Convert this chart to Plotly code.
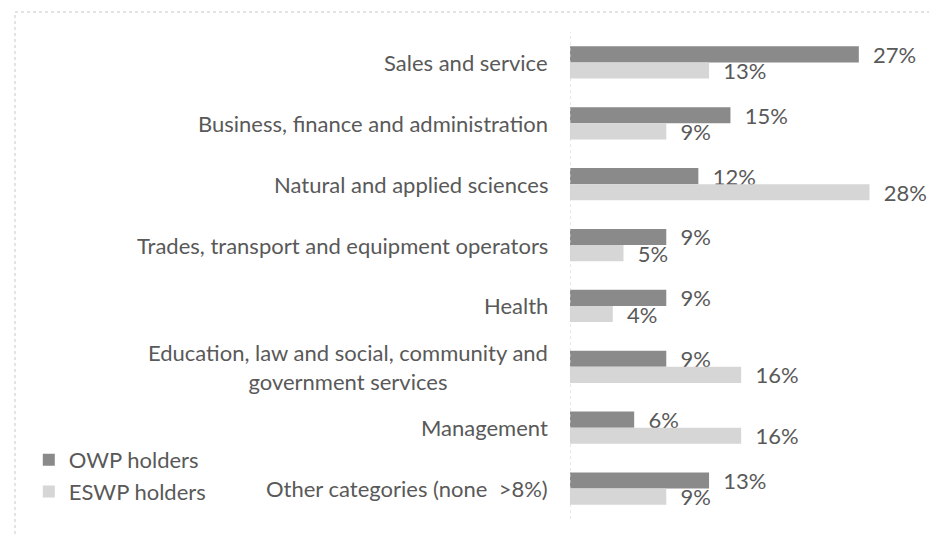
import plotly.graph_objects as go

categories = [
    "Sales and service",
    "Business, finance and administration",
    "Natural and applied sciences",
    "Trades, transport and equipment operators",
    "Health",
    "Education, law and social, community and<br>government services",
    "Management",
    "Other categories (none  >8%)",
]
owp = [27, 15, 12, 9, 9, 9, 6, 13]
eswp = [13, 9, 28, 5, 4, 16, 16, 9]

W, H = 929, 536
L, R, T, B = 570, 6, 32, 17
FONT = "Lato, Carlito, Calibri, sans-serif"
GREY = "#595959"
FS = 22
PAD = "\u00a0" * 2

fig = go.Figure()
fig.add_trace(go.Bar(
    y=categories, x=owp, orientation="h", name="OWP holders",
    marker=dict(color="#8a8a8a", line_width=0),
    text=[f"{PAD}{v}%" for v in owp], textposition="outside", cliponaxis=False,
    constraintext="none",
    textfont=dict(color=GREY, size=FS, family=FONT),
))
fig.add_trace(go.Bar(
    y=categories, x=eswp, orientation="h", name="ESWP holders",
    marker=dict(color="#d6d6d6", line_width=0),
    text=[f"{PAD}{v}%" for v in eswp], textposition="outside", cliponaxis=False,
    constraintext="none",
    textfont=dict(color=GREY, size=FS, family=FONT),
))

# category labels as annotations so the two-line one is centred like the original
for c in categories:
    fig.add_annotation(x=0, xref="paper", xshift=-20, y=c, yref="y", text=c,
                       showarrow=False, xanchor="right", align="center",
                       font=dict(color=GREY, size=FS, family=FONT))

pw = W - L - R
ph = H - T - B
fig.add_shape(type="line", xref="x", yref="paper", x0=0, x1=0, y0=0, y1=1,
              line=dict(color="#d0d0d0", width=1, dash="dot"))
# outer chart frame
fig.add_shape(type="rect", xref="paper", yref="paper",
              x0=(15 - L) / pw, x1=(W + 5 - L) / pw,
              y0=-(B + 5) / ph, y1=1 + (T - 12) / ph,
              line=dict(color="#c8c8c8", width=1, dash="dot"))

fig.update_layout(
    width=W, height=H,
    margin=dict(l=L, r=R, t=T, b=B, autoexpand=False),
    barmode="group", bargap=0.47, bargroupgap=0,
    plot_bgcolor="white", paper_bgcolor="white",
    font=dict(family=FONT, color=GREY, size=FS),
    xaxis=dict(range=[0, 33], visible=False),
    yaxis=dict(autorange="reversed", showticklabels=False, showgrid=False,
               zeroline=False, ticks=""),
    legend=dict(xref="container", yref="container", x=0.031, y=0.181,
                xanchor="left", yanchor="top", traceorder="normal",
                font=dict(size=FS, color=GREY, family=FONT),
                itemwidth=30, bgcolor="rgba(0,0,0,0)"),
    showlegend=True,
)

# drop the default body margin so the page doesn't overflow the window
fig.write_html("out.html", config={"displayModeBar": False},
               post_script="document.body.style.margin='0';")
